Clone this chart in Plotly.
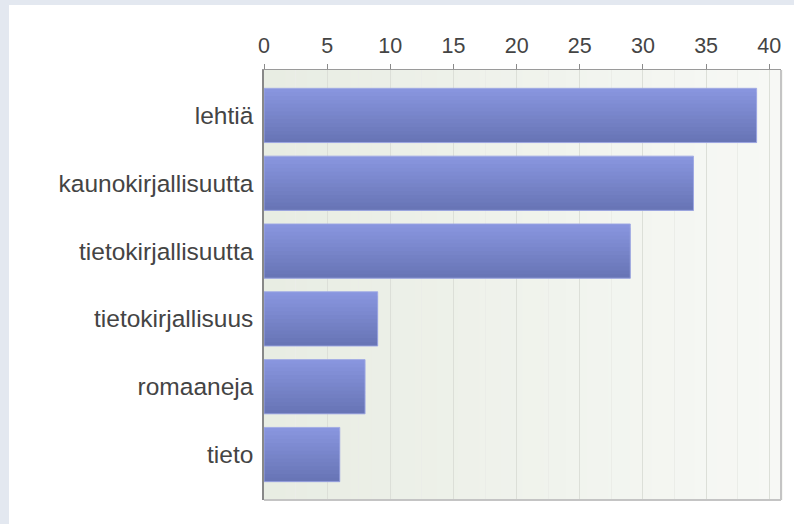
import plotly.graph_objects as go

categories = ["lehtiä", "kaunokirjallisuutta", "tietokirjallisuutta",
              "tietokirjallisuus", "romaaneja", "tieto"]
values = [39, 34, 29, 9, 8, 6]
tick_values = [0, 5, 10, 15, 20, 25, 30, 35, 40]
tick_labels = ["0", "5", "10", "15", "20", "25", "30", "35", "40"]

W, H = 794, 524
ML, MR, MT, MB = 264, 13, 70, 24
PW, PH = W - ML - MR, H - MT - MB


def lerp(c1, c2, t):
    return "rgb(%d,%d,%d)" % tuple(round(a + (b - a) * t) for a, b in zip(c1, c2))


fig = go.Figure()

# gradient bars built from overlapping thin stripes
bar_w = 0.8
N = 14
top_c, bot_c = (136, 149, 222), (104, 117, 182)
for k in range(N):
    step = bar_w / N
    fig.add_trace(go.Bar(
        x=values, y=categories, orientation="h",
        width=step * (2 if k < N - 1 else 1), offset=-bar_w / 2 + k * step,
        marker=dict(color=lerp(top_c, bot_c, k / (N - 1)), line=dict(width=0)),
        hoverinfo="skip", showlegend=False,
    ))
# outline
fig.add_trace(go.Bar(
    x=values, y=categories, orientation="h", width=bar_w,
    marker=dict(color="rgba(0,0,0,0)", line=dict(color="rgba(160,170,228,0.9)", width=1)),
    showlegend=False,
))

shapes = []
# plot background gradient
NB = 24
left_c, right_c = (232, 237, 227), (247, 248, 245)
for k in range(NB):
    shapes.append(dict(type="rect", xref="x domain", yref="y domain",
                       x0=k / NB, x1=(k + 1) / NB + 0.004, y0=0, y1=1,
                       fillcolor=lerp(left_c, right_c, k / (NB - 1)),
                       line=dict(width=0), layer="below"))
# outer gray frame (top and left strips)
gray = "#e3e8f0"
px2x = lambda px: (px - ML) / PW
py2y = lambda py: (H - MB - py) / PH
shapes.append(dict(type="rect", xref="paper", yref="paper",
                   x0=px2x(0), x1=px2x(W), y0=py2y(5), y1=py2y(0),
                   fillcolor=gray, line=dict(width=0), layer="below"))
shapes.append(dict(type="rect", xref="paper", yref="paper",
                   x0=px2x(0), x1=px2x(9), y0=py2y(H), y1=py2y(0),
                   fillcolor=gray, line=dict(width=0), layer="below"))
# right and bottom borders
shapes.append(dict(type="line", xref="x domain", yref="y domain",
                   x0=1, x1=1, y0=0, y1=1, line=dict(color="#c4c4c4", width=2), layer="above"))
shapes.append(dict(type="line", xref="x domain", yref="y domain",
                   x0=0, x1=1, y0=0, y1=0, line=dict(color="#c4c4c4", width=2), layer="above"))

fig.update_layout(
    width=W, height=H,
    margin=dict(l=ML, r=MR, t=MT, b=MB, pad=0, autoexpand=False),
    paper_bgcolor="white",
    plot_bgcolor="#eff2eb",
    barmode="overlay",
    shapes=shapes,
    font=dict(family="Arial, Liberation Sans, sans-serif", color="#444444"),
    xaxis=dict(
        side="top", range=[0, 40.93], tickvals=tick_values, ticktext=tick_labels,
        showgrid=True, gridcolor="#dcdfd8", gridwidth=1,
        minor=dict(dtick=2.5, tick0=0, showgrid=True, gridcolor="#ebede8", gridwidth=1, ticks=""),
        showline=True, linecolor="#9a9a9a", linewidth=1,
        ticks="outside", ticklen=5, tickcolor="#8a8a8a",
        tickfont=dict(size=21.5, color="#444444"), ticklabelstandoff=2,
        zeroline=False, fixedrange=True, automargin=False,
    ),
    yaxis=dict(
        range=[len(categories) - 1 + 0.67, -0.67],
        showgrid=False, showline=True, linecolor="#888888", linewidth=1.5,
        ticks="", tickfont=dict(size=24.5, color="#444444"),
        ticklabelstandoff=4, fixedrange=True, automargin=False,
    ),
)

fig.write_html("out.html", config={"displayModeBar": False},
               post_script="document.body.style.margin='0';document.body.style.overflow='hidden';")
